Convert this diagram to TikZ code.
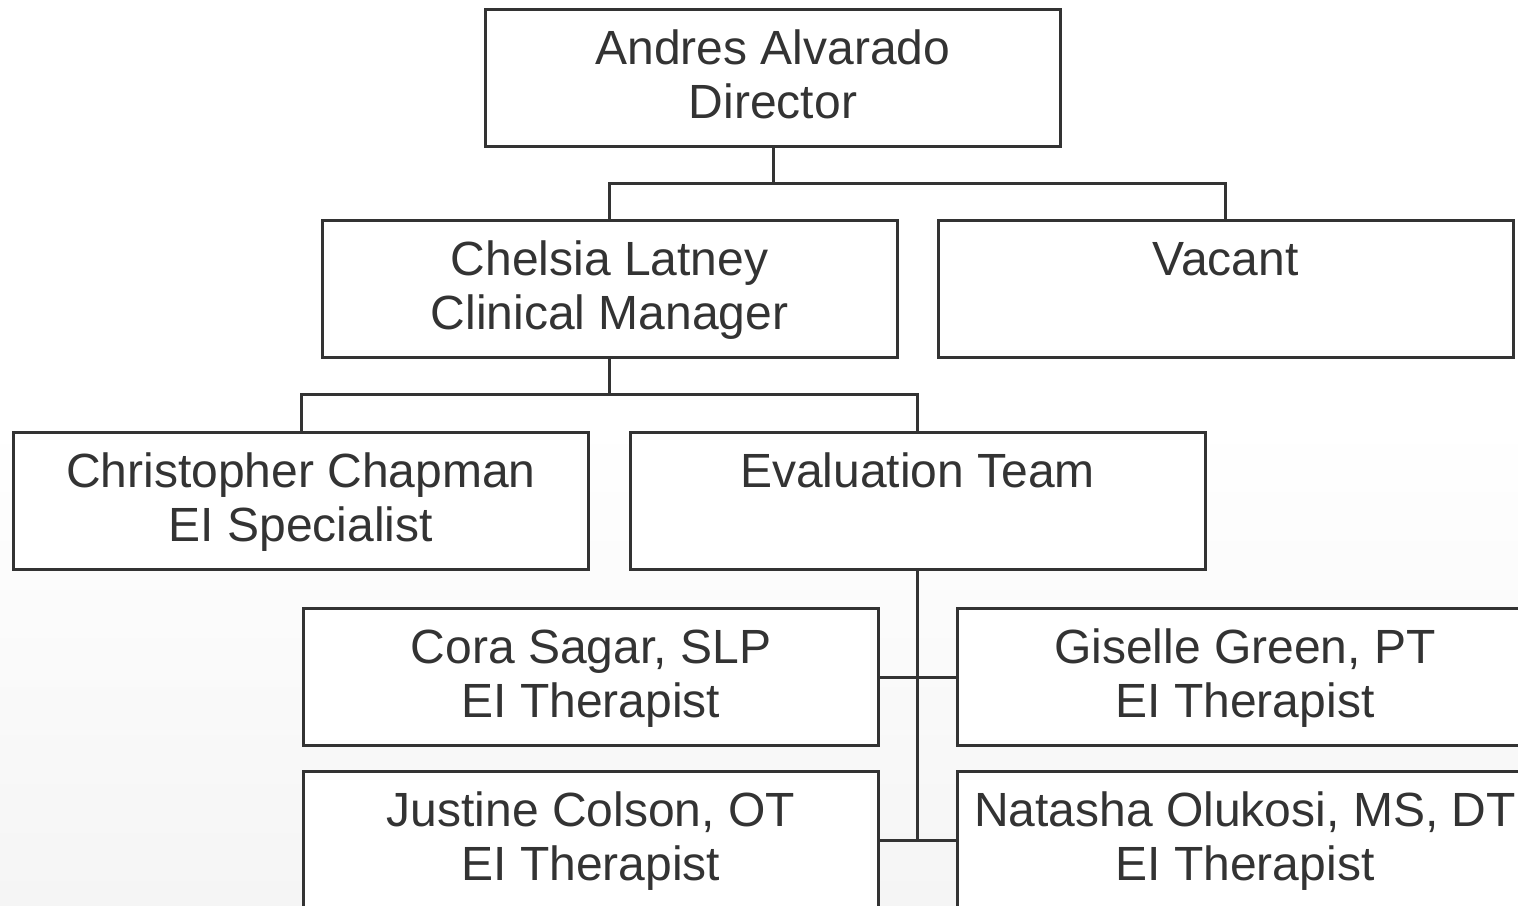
\documentclass[tikz,border=0pt]{standalone}
\usepackage{fontspec}
\setmainfont{Liberation Sans}
\definecolor{linec}{HTML}{333333}
\definecolor{textc}{HTML}{333333}
\definecolor{bgbot}{HTML}{F5F5F5}
\tikzset{
  box/.style={draw=linec, line width=3pt, fill=white, rectangle, minimum width=575pt, minimum height=137pt, inner sep=0pt, outer sep=0pt, anchor=north west},
  boxtext/.style={anchor=north, inner sep=0pt, align=center, text=textc, font=\fontsize{48}{54}\selectfont, yshift=-17pt},
  conn/.style={draw=linec, line width=3pt}
}
\begin{document}
\begin{tikzpicture}[x=1pt,y=-1pt]
\useasboundingbox (0,0) rectangle (1518,905);
\fill[white] (0,0) rectangle (1518,420);
\shade[top color=white, bottom color=bgbot] (0,419) rectangle (1518,905);
\begin{scope}
\clip (0,0) rectangle (1518,905);
% boxes
\node[box] (dir) at (485.5,9) {};
\node[box] (chel) at (322,220.5) {};
\node[box] (vac) at (938,220.5) {};
\node[box] (chris) at (13.5,432.5) {};
\node[box] (eval) at (630,432.5) {};
\node[box] (cora) at (303.5,608.5) {};
\node[box] (gis) at (957.5,608.5) {};
\node[box] (just) at (303.5,771.5) {};
\node[box] (nat) at (957.5,771.5) {};
% texts
\node[boxtext] (dirT) at (dir.north) {\strut Andres Alvarado\\Director};
\node[boxtext] (chelT) at (chel.north) {\strut Chelsia Latney\\Clinical Manager};
\node[boxtext] (vacT) at (vac.north) {\strut Vacant};
\node[boxtext] (chrisT) at (chris.north) {\strut Christopher Chapman\\EI Specialist};
\node[boxtext] (evalT) at (eval.north) {\strut Evaluation Team};
\node[boxtext] (coraT) at (cora.north) {\strut Cora Sagar, SLP\\EI Therapist};
\node[boxtext] (gisT) at (gis.north) {\strut Giselle Green, PT\\EI Therapist};
\node[boxtext] (justT) at (just.north) {\strut Justine Colson, OT\\EI Therapist};
\node[boxtext] (natT) at (nat.north) {\strut Natasha Olukosi, MS, DT\\EI Therapist};
% connectors
\draw[conn] (dir.south) -- (dir.south |- 0,183);
\draw[conn] (chel.north) -- (chel.north |- 0,183) -- (vac.north |- 0,183) -- (vac.north);
\draw[conn] (chel.south) -- (chel.south |- 0,394.5);
\draw[conn] (chris.north) -- (chris.north |- 0,394.5) -- (eval.north |- 0,394.5) -- (eval.north);
\draw[conn] (eval.south) -- (eval.south |- just.east);
\draw[conn] (cora.east) -- (gis.west);
\draw[conn] (just.east) -- (nat.west);
\end{scope}
\end{tikzpicture}
\end{document}
